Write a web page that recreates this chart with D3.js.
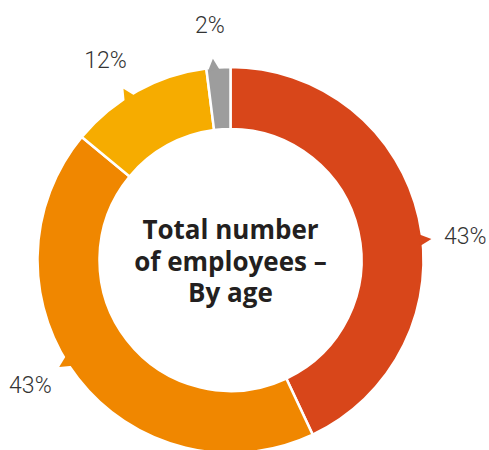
<!DOCTYPE html>
<html>
<head>
	<meta charset="utf-8">
	<title>Employees by age</title>
	<script src="https://cdn.jsdelivr.net/npm/d3@7"></script>
</head>
<style type="text/css">
	body { margin:0; background-color:#ffffff; }
</style>
<body>
</body>
</html>
<script type="text/javascript">
	// age groups (names not printed on the chart)
	var groups = ["A", "B", "C", "D"];
	var shares = [43, 43, 12, 2];
	var labels = ["43%", "43%", "12%", "2%"];
	var colors = ["#d8461a", "#f08700", "#f6ac00", "#9d9d9d"];
	var title = ["Total number", "of employees \u2013", "By age"];

	var width = 489, height = 450;
	var cx = 230.5, cy = 260;
	var R = 193, r = 131;

	var svg = d3.select("body").append("svg").attr("width", width).attr("height", height);
	var g = svg.append("g").attr("transform", "translate(" + cx + "," + cy + ")");

	var data = groups.map(function(d, i){ return { name:d, value:shares[i], label:labels[i], color:colors[i] }; });

	var pie = d3.pie().value(function(d){ return d.value; }).sort(null);
	var arc = d3.arc().innerRadius(r).outerRadius(R);
	var arcs = pie(data);

	g.selectAll(".slice").data(arcs).enter().append("path")
		.attr("class", "slice")
		.attr("d", arc)
		.attr("fill", function(d){ return d.data.color; })
		.attr("stroke", "#fff")
		.attr("stroke-width", 2.5);

	// the callouts sit a little off the middle of each slice
	var shift = [6.6, 5.8, -3.2, -1.4];
	function ang(d, i){ return (d.startAngle + d.endAngle) / 2 + shift[i] * Math.PI / 180; }
	function pt(a, rad){ return [rad * Math.sin(a), -rad * Math.cos(a)]; }

	g.selectAll(".tick-mark").data(arcs).enter().append("path")
		.attr("class", "tick-mark")
		.attr("fill", function(d){ return d.data.color; })
		.attr("d", function(d, i){
			var a = ang(d, i);
			var tip = pt(a, R + 9);
			var b = pt(a, R - 3);
			var px = Math.cos(a) * 6, py = Math.sin(a) * 6;
			return "M" + tip + "L" + [b[0] + px, b[1] + py] + "L" + [b[0] - px, b[1] - py] + "Z";
		});

	g.selectAll(".pct").data(arcs).enter().append("text")
		.attr("class", "pct")
		.attr("x", function(d, i){ return pt(ang(d, i), 236)[0]; })
		.attr("y", function(d, i){ return pt(ang(d, i), 236)[1]; })
		.attr("dy", "0.36em")
		.attr("text-anchor", "middle")
		.style("font-family", "Roboto, sans-serif")
		.style("font-weight", 300)
		.style("font-size", "23px")
		.style("fill", "#333")
		.text(function(d){ return d.data.label; });

	g.append("text")
		.attr("text-anchor", "middle")
		.style("font-family", "'Open Sans', sans-serif")
		.style("font-weight", 700)
		.style("font-size", "26px")
		.style("fill", "#231f20")
		.selectAll("tspan").data(title).enter().append("tspan")
		.attr("x", 0)
		.attr("y", function(d, i){ return -21 + i * 31.5; })
		.text(function(d){ return d; });
</script>
